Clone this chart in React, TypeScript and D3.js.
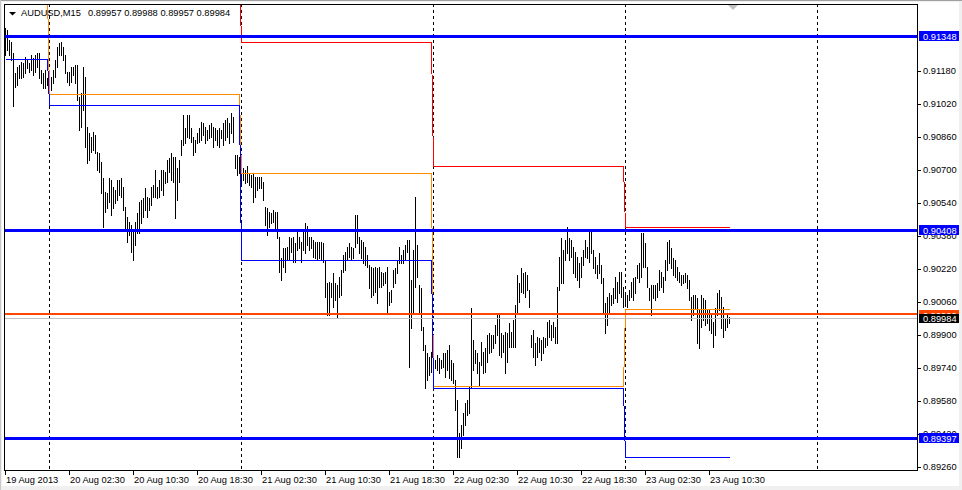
import { useEffect, useRef } from "react";
import * as d3 from "d3";

const symbolTitle = "AUDUSD,M15";
const lastQuote = [0.89957, 0.89988, 0.89957, 0.89984]; // open high low close of the last bar

// M15 bar highs and lows, one pair of arrays per trading day
const highs19 = [0.91387, 0.91377, 0.91329, 0.91319, 0.91266, 0.91169, 0.91198, 0.91208, 0.91222, 0.91217, 0.91247, 0.91232, 0.91217, 0.91256, 0.91242, 0.91256, 0.91266, 0.91266, 0.91184, 0.91169, 0.91184, 0.91145];
const lows19 = [0.91256, 0.91280, 0.91256, 0.91232, 0.91009, 0.91101, 0.91111, 0.91145, 0.91145, 0.91150, 0.91169, 0.91193, 0.91174, 0.91184, 0.91159, 0.91174, 0.91198, 0.91145, 0.91120, 0.91096, 0.91096, 0.91111];

const highs20 = [
    0.91150, 0.91150, 0.91184, 0.91232, 0.91295, 0.91314, 0.91319, 0.91295, 0.91256, 0.91174, 0.91174, 0.91198, 0.91198, 0.91208, 0.91208, 0.91053, 0.91072, 0.91198, 0.91150, 0.90907, 0.90878, 0.90859, 0.90883, 0.90868,
    0.90786, 0.90781, 0.90737, 0.90660, 0.90592, 0.90587, 0.90660, 0.90650, 0.90616, 0.90602, 0.90650, 0.90650, 0.90660, 0.90616, 0.90519, 0.90471, 0.90446, 0.90432, 0.90408, 0.90446, 0.90490, 0.90543, 0.90553, 0.90563,
    0.90611, 0.90568, 0.90563, 0.90616, 0.90626, 0.90699, 0.90616, 0.90650, 0.90699, 0.90699, 0.90689, 0.90747, 0.90757, 0.90781, 0.90762, 0.90762, 0.90708, 0.90747, 0.90844, 0.90965, 0.90902, 0.90965, 0.90965, 0.90902,
    0.90859, 0.90844, 0.90878, 0.90902, 0.90931, 0.90926, 0.90907, 0.90893, 0.90917, 0.90926, 0.90907, 0.90902, 0.90893, 0.90902, 0.90893, 0.90926, 0.90941, 0.90951, 0.90926, 0.90975, 0.90956, 0.90771, 0.90771, 0.90762,
];
const lows20 = [
    0.91072, 0.91087, 0.91120, 0.91150, 0.91198, 0.91256, 0.91256, 0.91232, 0.91169, 0.91125, 0.91111, 0.91125, 0.91159, 0.91120, 0.91038, 0.90893, 0.90907, 0.90990, 0.90810, 0.90732, 0.90747, 0.90786, 0.90796, 0.90781,
    0.90699, 0.90689, 0.90587, 0.90422, 0.90495, 0.90514, 0.90543, 0.90480, 0.90514, 0.90538, 0.90553, 0.90577, 0.90568, 0.90505, 0.90408, 0.90349, 0.90383, 0.90301, 0.90262, 0.90335, 0.90393, 0.90393, 0.90442, 0.90471,
    0.90505, 0.90471, 0.90505, 0.90529, 0.90568, 0.90568, 0.90563, 0.90568, 0.90602, 0.90577, 0.90635, 0.90640, 0.90689, 0.90650, 0.90640, 0.90466, 0.90553, 0.90640, 0.90771, 0.90820, 0.90830, 0.90859, 0.90854, 0.90834,
    0.90771, 0.90786, 0.90830, 0.90834, 0.90844, 0.90868, 0.90830, 0.90844, 0.90854, 0.90859, 0.90810, 0.90844, 0.90820, 0.90810, 0.90854, 0.90820, 0.90844, 0.90859, 0.90830, 0.90878, 0.90834, 0.90708, 0.90674, 0.90684,
];

const highs21 = [
    0.90708, 0.90708, 0.90699, 0.90718, 0.90684, 0.90674, 0.90684, 0.90665, 0.90665, 0.90665, 0.90665, 0.90640, 0.90519, 0.90514, 0.90495, 0.90490, 0.90505, 0.90495, 0.90495, 0.90374, 0.90272, 0.90320, 0.90320, 0.90325,
    0.90374, 0.90369, 0.90374, 0.90344, 0.90412, 0.90374, 0.90349, 0.90408, 0.90442, 0.90427, 0.90374, 0.90374, 0.90359, 0.90349, 0.90349, 0.90349, 0.90349, 0.90344, 0.90262, 0.90150, 0.90155, 0.90150, 0.90199, 0.90150,
    0.90141, 0.90180, 0.90214, 0.90286, 0.90301, 0.90325, 0.90344, 0.90325, 0.90320, 0.90480, 0.90480, 0.90374, 0.90359, 0.90349, 0.90325, 0.90286, 0.90238, 0.90228, 0.90223, 0.90228, 0.90223, 0.90228, 0.90204, 0.90199,
    0.90204, 0.90228, 0.90107, 0.90117, 0.90214, 0.90223, 0.90262, 0.90325, 0.90286, 0.90311, 0.90335, 0.90359, 0.90359, 0.90165, 0.90311, 0.90568, 0.90335, 0.90141, 0.90126, 0.89937, 0.89850, 0.89811, 0.89792, 0.89816,
];
const lows21 = [
    0.90635, 0.90650, 0.90635, 0.90640, 0.90626, 0.90616, 0.90543, 0.90568, 0.90602, 0.90611, 0.90611, 0.90553, 0.90432, 0.90383, 0.90422, 0.90442, 0.90446, 0.90417, 0.90369, 0.90204, 0.90165, 0.90228, 0.90204, 0.90262,
    0.90262, 0.90301, 0.90252, 0.90252, 0.90311, 0.90320, 0.90252, 0.90311, 0.90296, 0.90335, 0.90311, 0.90320, 0.90277, 0.90272, 0.90262, 0.90272, 0.90262, 0.90252, 0.90083, 0.89995, 0.89995, 0.90083, 0.90034, 0.90068,
    0.89986, 0.90083, 0.90092, 0.90204, 0.90214, 0.90262, 0.90277, 0.90262, 0.90272, 0.90325, 0.90344, 0.90296, 0.90272, 0.90247, 0.90238, 0.90228, 0.90126, 0.90083, 0.90092, 0.90107, 0.90053, 0.90131, 0.90131, 0.90141,
    0.90150, 0.90010, 0.90044, 0.90058, 0.90131, 0.90150, 0.90199, 0.90247, 0.90247, 0.90247, 0.90262, 0.90301, 0.89743, 0.89932, 0.90005, 0.90131, 0.90180, 0.90010, 0.89923, 0.89826, 0.89641, 0.89680, 0.89704, 0.89719,
];

const highs22 = [
    0.89792, 0.89777, 0.89801, 0.89787, 0.89777, 0.89811, 0.89811, 0.89826, 0.89850, 0.89777, 0.89762, 0.89680, 0.89583, 0.89423, 0.89462, 0.89520, 0.89568, 0.89583, 0.89646, 0.90029, 0.89874, 0.89826, 0.89811, 0.89767,
    0.89864, 0.89816, 0.89835, 0.89898, 0.89908, 0.89898, 0.89898, 0.89947, 0.89995, 0.90005, 0.89908, 0.89898, 0.89913, 0.89908, 0.89957, 0.89913, 0.89971, 0.90044, 0.90189, 0.90150, 0.90223, 0.90199, 0.90204, 0.90189,
    0.90117, 0.89898, 0.89923, 0.89859, 0.89889, 0.89884, 0.89874, 0.89889, 0.89884, 0.89961, 0.89971, 0.89947, 0.89961, 0.89937, 0.90131, 0.90277, 0.90369, 0.90311, 0.90359, 0.90422, 0.90369, 0.90359, 0.90325, 0.90301,
    0.90277, 0.90247, 0.90277, 0.90311, 0.90359, 0.90325, 0.90408, 0.90408, 0.90311, 0.90277, 0.90238, 0.90296, 0.90238, 0.90175, 0.90053, 0.90083, 0.90102, 0.90092, 0.90126, 0.90180, 0.90155, 0.90204, 0.90204, 0.90131,
];
const lows22 = [
    0.89714, 0.89738, 0.89729, 0.89714, 0.89738, 0.89743, 0.89695, 0.89729, 0.89690, 0.89680, 0.89666, 0.89535, 0.89307, 0.89307, 0.89350, 0.89413, 0.89462, 0.89510, 0.89520, 0.89646, 0.89729, 0.89762, 0.89714, 0.89656,
    0.89753, 0.89714, 0.89719, 0.89767, 0.89811, 0.89816, 0.89835, 0.89859, 0.89898, 0.89801, 0.89792, 0.89816, 0.89714, 0.89767, 0.89840, 0.89840, 0.89840, 0.89840, 0.90010, 0.90058, 0.90107, 0.90102, 0.90083, 0.90117,
    0.90034, 0.89840, 0.89792, 0.89753, 0.89792, 0.89816, 0.89777, 0.89811, 0.89840, 0.89850, 0.89889, 0.89874, 0.89889, 0.89859, 0.89859, 0.90117, 0.90150, 0.90150, 0.90262, 0.90296, 0.90262, 0.90277, 0.90199, 0.90180,
    0.90165, 0.90131, 0.90180, 0.90238, 0.90277, 0.90272, 0.90252, 0.90296, 0.90223, 0.90199, 0.90175, 0.90199, 0.90150, 0.90005, 0.89908, 0.89947, 0.90005, 0.90044, 0.90053, 0.90078, 0.90058, 0.90102, 0.90083, 0.90034,
];

const highs23 = [
    0.90102, 0.90092, 0.90117, 0.90155, 0.90175, 0.90180, 0.90238, 0.90247, 0.90393, 0.90393, 0.90344, 0.90228, 0.90126, 0.90141, 0.90141, 0.90141, 0.90150, 0.90214, 0.90204, 0.90180, 0.90262, 0.90349, 0.90359, 0.90320,
    0.90272, 0.90262, 0.90228, 0.90204, 0.90189, 0.90189, 0.90199, 0.90189, 0.90165, 0.90083, 0.90092, 0.90092, 0.90078, 0.90020, 0.90092, 0.90078, 0.90068, 0.90020, 0.90020, 0.89995, 0.89961, 0.90029, 0.90102, 0.90117,
    0.90083, 0.90034, 0.89981, 0.90005, 0.89988,
];
const lows23 = [
    0.90053, 0.90034, 0.90068, 0.90083, 0.90068, 0.90102, 0.90175, 0.90155, 0.90180, 0.90228, 0.90228, 0.90131, 0.90068, 0.89995, 0.90078, 0.90068, 0.90083, 0.90117, 0.90131, 0.90107, 0.90165, 0.90214, 0.90247, 0.90223,
    0.90189, 0.90180, 0.90165, 0.90155, 0.90141, 0.90150, 0.90155, 0.90126, 0.90068, 0.89971, 0.89995, 0.90029, 0.89859, 0.89835, 0.89937, 0.89971, 0.89947, 0.89957, 0.89923, 0.89908, 0.89840, 0.89898, 0.89995, 0.90020,
    0.89932, 0.89889, 0.89923, 0.89937, 0.89957,
];

// daily levels indicator (previous day high / close / low), one value per day 19..23 Aug
const prevDayHigh = [0.91720, 0.91650, 0.91319, 0.90718, 0.90422];
const prevDayClose = [0.91560, 0.91067, 0.90684, 0.89651, 0.90024];
const prevDayLow = [0.91237, 0.91014, 0.90262, 0.89641, 0.89307];

// horizontal lines
const blueLevels = [0.91348, 0.90408, 0.89397];
const orangeLevel = 0.90000;
const bidPrice = 0.89984;

const priceTicks = [0.9118, 0.9102, 0.9086, 0.9070, 0.9054, 0.9038, 0.9022, 0.9006, 0.8990, 0.8974, 0.8958, 0.8942, 0.8926];
const timeTickLabels = [
    "19 Aug 2013", "20 Aug 02:30", "20 Aug 10:30", "20 Aug 18:30", "21 Aug 02:30", "21 Aug 10:30",
    "21 Aug 18:30", "22 Aug 02:30", "22 Aug 10:30", "22 Aug 18:30", "23 Aug 02:30", "23 Aug 10:30",
];

export default function App() {
    const svgRef = useRef<SVGSVGElement | null>(null);

    useEffect(() => {
        document.body.style.margin = "0";

        const width = 962;
        const height = 490;
        const plotLeft = 4;
        const plotTop = 4;
        const plotRight = 917;
        const plotBottom = 470;
        const font = "'Liberation Sans', Arial, sans-serif";
        const fontSize = 9.3;
        const fmt = d3.format(".5f");

        const highs = [...highs19, ...highs20, ...highs21, ...highs22, ...highs23];
        const lows = [...lows19, ...lows20, ...lows21, ...lows22, ...lows23];
        const dayLengths = [highs19.length, highs20.length, highs21.length, highs22.length, highs23.length];
        const dayOf: number[] = [];
        dayLengths.forEach((n, d) => { for (let k = 0; k < n; k++) dayOf.push(d); });

        // bar times, 15 minutes apart, first bar 19 Aug 18:30
        const firstBar = new Date(Date.UTC(2013, 7, 19, 18, 30));
        const barTime = (i: number) => d3.utcMinute.offset(firstBar, i * 15);
        const lastSlot = barTime(456);

        const x = d3.scaleUtc().domain([firstBar, lastSlot]).range([5, 917]);
        const y = d3.scaleLinear().domain([0.8926, 0.9118]).range([466.7, 70.7]);
        const px = (t: Date) => Math.round(x(t)) + 0.5;
        const py = (v: number) => Math.round(y(v)) + 0.5;

        const svg = d3.select(svgRef.current)
            .attr("width", width)
            .attr("height", height)
            .attr("viewBox", [0, 0, width, height].join(" "))
            .style("display", "block")
            .style("font-family", font);
        svg.selectAll("*").remove();

        // window frame
        svg.append("rect").attr("width", width).attr("height", height).attr("fill", "#f0f0f0");
        svg.append("rect").attr("x", 2).attr("y", 2).attr("width", 957).attr("height", 484).attr("fill", "#fff");
        svg.append("line").attr("x1", 0).attr("x2", width).attr("y1", 0.5).attr("y2", 0.5).attr("stroke", "#a0a0a0");
        svg.append("line").attr("x1", 0.5).attr("x2", 0.5).attr("y1", 0).attr("y2", height).attr("stroke", "#c8c8c8");

        svg.append("clipPath").attr("id", "plot-clip")
            .append("rect")
            .attr("x", plotLeft + 1).attr("y", plotTop + 1)
            .attr("width", plotRight - plotLeft - 1).attr("height", plotBottom - plotTop - 1);

        const plot = svg.append("g").attr("clip-path", "url(#plot-clip)");

        // day separators
        const days = d3.utcDay.range(d3.utcDay.ceil(firstBar), d3.utcMinute.offset(lastSlot, 1));
        plot.selectAll(".sep")
            .data(days)
            .join("line")
            .attr("class", "sep")
            .attr("x1", d => px(d)).attr("x2", d => px(d))
            .attr("y1", plotTop).attr("y2", plotBottom)
            .attr("stroke", "#000")
            .attr("stroke-dasharray", "3,3")
            .attr("shape-rendering", "crispEdges");

        // bars (high-low lines)
        const bars = highs.map((h, i) => ({ i, h, l: lows[i] }));
        plot.selectAll(".bar")
            .data(bars)
            .join("line")
            .attr("class", "bar")
            .attr("x1", d => px(barTime(d.i))).attr("x2", d => px(barTime(d.i)))
            .attr("y1", d => Math.round(y(d.h)))
            .attr("y2", d => Math.round(y(d.l)) + 1)
            .attr("stroke", "#000")
            .attr("shape-rendering", "crispEdges");

        // daily level lines
        const levelLine = d3.line<number>()
            .x((_, i) => px(barTime(i)))
            .y(d => py(d));
        const series: [number[], string][] = [
            [prevDayHigh, "#ff0000"],
            [prevDayClose, "#ff8c00"],
            [prevDayLow, "#0000ff"],
        ];
        series.forEach(([vals, color]) => {
            plot.append("path")
                .attr("fill", "none")
                .attr("stroke", color)
                .attr("stroke-width", 1)
                .attr("shape-rendering", "crispEdges")
                .attr("d", levelLine(dayOf.map(d => vals[d])));
        });

        // bid line and orange horizontal line
        plot.append("line")
            .attr("x1", plotLeft).attr("x2", plotRight)
            .attr("y1", py(bidPrice) + 1).attr("y2", py(bidPrice) + 1)
            .attr("stroke", "#c0c0c0")
            .attr("shape-rendering", "crispEdges");
        plot.append("rect")
            .attr("x", plotLeft).attr("width", plotRight - plotLeft)
            .attr("y", Math.round(y(orangeLevel)) - 1).attr("height", 2)
            .attr("fill", "#ff4500");

        // blue levels
        plot.selectAll(".lvl")
            .data(blueLevels)
            .join("rect")
            .attr("class", "lvl")
            .attr("x", plotLeft).attr("width", plotRight - plotLeft)
            .attr("y", d => Math.round(y(d)) - 1).attr("height", 3)
            .attr("fill", "#0000ff");

        // plot border
        svg.append("path")
            .attr("d", `M${plotLeft + 0.5},${plotTop + 0.5}H${plotRight + 0.5}V${plotBottom + 0.5}H${plotLeft + 0.5}Z`)
            .attr("fill", "none")
            .attr("stroke", "#000")
            .attr("shape-rendering", "crispEdges");

        // price axis
        const priceAxis = svg.append("g");
        priceTicks.forEach(p => {
            const yy = Math.round(y(p));
            priceAxis.append("line")
                .attr("x1", plotRight + 1).attr("x2", plotRight + 4)
                .attr("y1", yy + 0.5).attr("y2", yy + 0.5)
                .attr("stroke", "#000");
            priceAxis.append("text")
                .attr("x", 923).attr("y", y(p) + 3.5)
                .attr("font-size", fontSize)
                .attr("fill", "#000")
                .text(fmt(p));
        });

        // price tags
        const tag = (v: number, bg: string, top: number, h: number) => {
            const yy = Math.round(y(v));
            svg.append("rect")
                .attr("x", 919).attr("y", yy + top).attr("width", 40).attr("height", h)
                .attr("fill", bg);
            svg.append("text")
                .attr("x", 923).attr("y", yy + top + h - 1.5)
                .attr("font-size", fontSize)
                .attr("fill", "#fff")
                .text(fmt(v));
        };
        tag(orangeLevel, "#ff4500", -4, 10);
        tag(bidPrice, "#000", -3, 9);
        blueLevels.forEach(v => tag(v, "#0000ff", -5, 10));

        // time axis
        const timeAxis = svg.append("g");
        timeTickLabels.forEach((label, k) => {
            const t = d3.utcHour.offset(firstBar, 8 * k);
            timeAxis.append("line")
                .attr("x1", px(t)).attr("x2", px(t))
                .attr("y1", plotBottom + 1).attr("y2", plotBottom + 5)
                .attr("stroke", "#000");
            timeAxis.append("text")
                .attr("x", px(t) + 0.5).attr("y", 483)
                .attr("font-size", fontSize)
                .attr("fill", "#000")
                .text(label);
        });

        // chart shift marker
        svg.append("path").attr("d", "M728,5H738L733,10Z").attr("fill", "#c0c0c0");

        // header
        svg.append("path").attr("d", "M9,12H16L12.5,15.5Z").attr("fill", "#000");
        svg.append("text")
            .attr("x", 21).attr("y", 16)
            .attr("font-size", fontSize)
            .attr("fill", "#000")
            .text(symbolTitle);
        svg.append("text")
            .attr("x", 88).attr("y", 16)
            .attr("font-size", fontSize)
            .attr("fill", "#000")
            .text(lastQuote.map(v => fmt(v)).join(" "));
    }, []);

    return <svg ref={svgRef} />;
}
